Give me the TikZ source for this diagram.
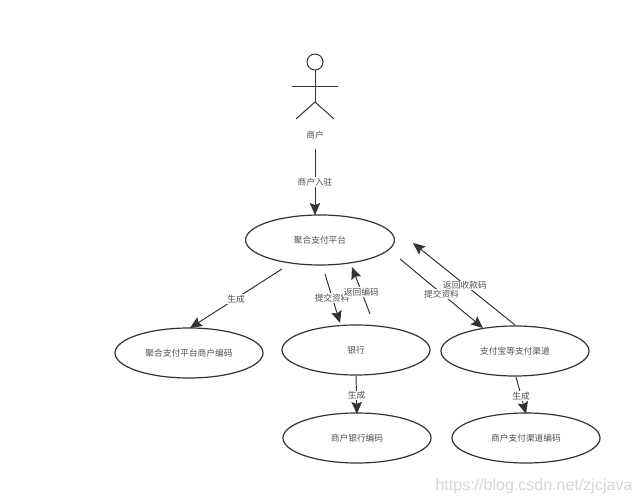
\documentclass[tikz,border=0pt]{standalone}
\usepackage{fontspec}
\setmainfont{Noto Sans CJK SC}
\newfontfamily\markfont{Liberation Sans}
\usetikzlibrary{arrows.meta,shapes.geometric}
\definecolor{inkline}{HTML}{333333}
\definecolor{inktext}{HTML}{505050}
\tikzset{
  usecase/.style={ellipse,draw=inkline,line width=0.85pt,fill=white,inner sep=0pt,minimum width=3.7cm,minimum height=1.25cm,font=\fontsize{6.2}{7}\selectfont,text=inktext},
  flow/.style={-{Stealth[length=3mm,width=2.6mm,inset=0.5mm]},line width=0.7pt,draw=inkline},
  flowtext/.style={fill=white,inner sep=0.4pt,yshift=-0.4pt,font=\fontsize{6.2}{7}\selectfont,text=inktext},
  actorline/.style={line width=0.7pt,draw=inkline}
}

\begin{document}
\begin{tikzpicture}[x=0.025cm,y=-0.025cm]
    \useasboundingbox (0,0) rectangle (640,504);
    % actor
    \node[circle,draw=inkline,line width=0.7pt,inner sep=0pt,minimum size=0.4cm] (head) at (315,62) {};
    \coordinate (hip) at (315,102);
    \coordinate (armL) at (292,86); \coordinate (armR) at (338,86);
    \coordinate (footL) at (296,119); \coordinate (footR) at (334,119);
    \draw[actorline] (head.south)--(hip);
    \draw[actorline] (armL)--(armR);
    \draw[actorline] (footL)--(hip)--(footR);
    \node[flowtext] (merchant) at (315,135) {商户};
    % use cases
    \node[usecase,minimum width=3.72cm] (platform) at (320,240) {聚合支付平台};
    \node[usecase] (platformcode) at (189,353) {聚合支付平台商户编码};
    \node[usecase] (bank) at (356,350) {银行};
    \node[usecase] (channel) at (515,351) {支付宝等支付渠道};
    \node[usecase] (bankcode) at (357,438) {商户银行编码};
    \node[usecase] (channelcode) at (526,438) {商户支付渠道编码};
    % free ends
    \coordinate (a0) at (315,149); \coordinate (a1) at (315,215);
    \coordinate (b0) at (282,269); \coordinate (b1) at (190,328);
    \coordinate (c0) at (325,274); \coordinate (c1) at (340,323);
    \coordinate (d0) at (370,314); \coordinate (d1) at (352,267);
    \coordinate (e0) at (400,259); \coordinate (e1) at (483,328);
    \coordinate (f0) at (515,325); \coordinate (f1) at (413,243);
    \coordinate (g0) at (356,376); \coordinate (g1) at (357,414);
    \coordinate (h0) at (516,377); \coordinate (h1) at (526,414);
    % connectors
    \draw[flow] (a0)--(a1) node[flowtext,pos=0.49] (entry) {商户入驻};
    \draw[flow] (b0)--(b1) node[flowtext,pos=0.5] (makeA) {生成};
    \draw[flow] (f0)--(f1) node[flowtext,pos=0.49] (backB) {返回收款码};
    \draw[flow] (e0)--(e1) node[flowtext,pos=0.5] (sendB) {提交资料};
    \draw[flow] (c0)--(c1) node[flowtext,pos=0.48] (sendA) {提交资料};
    \draw[flow] (d0)--(d1) node[flowtext,pos=0.48] (backA) {返回编码};
    \draw[flow] (g0)--(g1) node[flowtext,pos=0.5] (makeB) {生成};
    \draw[flow] (h0)--(h1) node[flowtext,pos=0.5] (makeC) {生成};
    % watermark
    \node[text=black!16,font=\markfont\fontsize{11.4}{12}\selectfont,inner sep=0pt] (mark) at (534,486) {https://blog.csdn.net/zjcjava};
  \end{tikzpicture}
\end{document}
